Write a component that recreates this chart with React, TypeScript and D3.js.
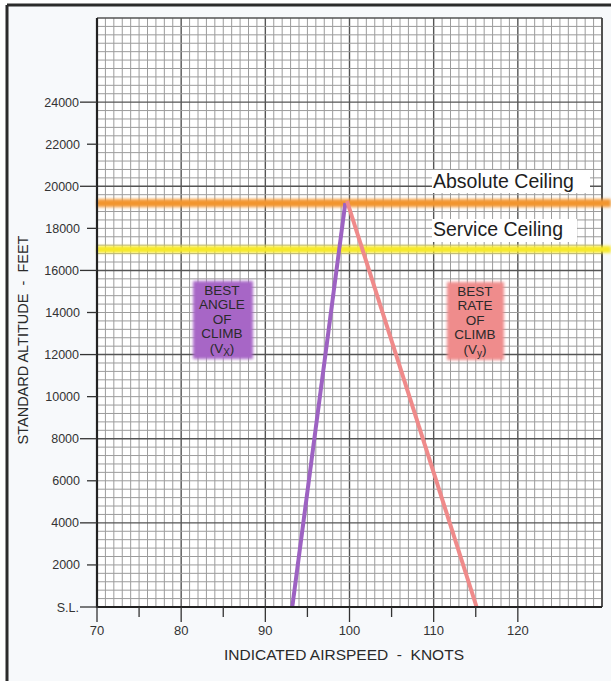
import React from "react";
import * as d3 from "d3";

const W = 611;
const H = 681;

// data
const xDomain: [number, number] = [70, 130];
const yDomain: [number, number] = [0, 28000];
const xTickLabels = [70, 80, 90, 100, 110, 120];
const xMinorTicks = [75, 85, 95, 105, 115];
const yTickValues = [0, 2000, 4000, 6000, 8000, 10000, 12000, 14000, 16000, 18000, 20000, 22000, 24000];
const absoluteCeiling = 19200;
const serviceCeiling = 17000;
const vxLine: [number, number][] = [[93.2, 0], [99.5, 19200]];
const vyLine: [number, number][] = [[99.7, 19300], [115.1, 0]];
const vxLabel = ["BEST", "ANGLE", "OF", "CLIMB"];
const vyLabel = ["BEST", "RATE", "OF", "CLIMB"];

const FONT = "'Liberation Sans', Arial, Helvetica, sans-serif";

export default function App() {
  const x = d3.scaleLinear().domain(xDomain).range([97, 602]);
  const y = d3.scaleLinear().domain(yDomain).range([607, 18]);
  const line = d3.line<[number, number]>().x(d => x(d[0])).y(d => y(d[1]));

  const vGrid = d3.range(xDomain[0], xDomain[1] + 0.001, 1);
  const hGrid = d3.range(yDomain[0], yDomain[1] + 0.001, 400);

  const boxLines = (lines: string[], sub: string, cx: number, top: number) => (
    <text x={cx} textAnchor="middle" fontFamily={FONT} fontSize={13.5} fill="#2a2a2a">
      {lines.map((t, i) => (
        <tspan key={i} x={cx} y={top + i * 14.4}>{t}</tspan>
      ))}
      <tspan x={cx} y={top + 4 * 14.4}>(V<tspan fontSize={10} dy={3}>{sub}</tspan><tspan dy={-3}>)</tspan></tspan>
    </text>
  );

  return (
    <svg width={W} height={H} style={{ position: "absolute", left: 0, top: 0, background: "#f7f9fb" }}>
      <defs>
        <filter id="soft" x="-20%" y="-20%" width="140%" height="140%">
          <feGaussianBlur stdDeviation={1.8} />
        </filter>
        <filter id="soft2" filterUnits="userSpaceOnUse" x={0} y={0} width={W} height={H}>
          <feGaussianBlur stdDeviation={1.4} />
        </filter>
      </defs>
      <rect x={0} y={0} width={W} height={H} fill="#ffffff" />
      <rect x={7} y={5} width={W} height={H} fill="#f7f9fb" />
      <line x1={7} y1={5} x2={W} y2={5} stroke="#2b2b2b" strokeWidth={3} />
      <line x1={7} y1={5} x2={7} y2={H} stroke="#2b2b2b" strokeWidth={3} />

      {/* plot area */}
      <rect x={x(70)} y={y(28000)} width={x(130) - x(70)} height={y(0) - y(28000)} fill="#ffffff" />
      {vGrid.map(v => (
        <line key={"v" + v} x1={x(v)} x2={x(v)} y1={y(28000)} y2={y(0)}
          stroke={v % 10 === 0 ? "#555" : "#9c9c9c"} strokeWidth={v % 10 === 0 ? 1.4 : 1} />
      ))}
      {hGrid.map(v => (
        <line key={"h" + v} x1={x(70)} x2={x(130)} y1={y(v)} y2={y(v)}
          stroke={v % 4000 === 0 ? "#555" : "#9c9c9c"} strokeWidth={v % 4000 === 0 ? 1.4 : 1} />
      ))}
      <line x1={x(130)} x2={x(130)} y1={y(28000)} y2={y(0)} stroke="#444" strokeWidth={1.6} />

      {/* ceilings */}
      <rect x={x(70)} y={y(absoluteCeiling) - 4} width={W - x(70)} height={8} fill="#f2952f" filter="url(#soft2)" />
      <rect x={x(70)} y={y(serviceCeiling) - 3.5} width={W - x(70)} height={7} fill="#f7e925" filter="url(#soft2)" />

      {/* boxes */}
      <rect x={193} y={281} width={60} height={78} fill="#a766c6" filter="url(#soft)" />
      <rect x={447} y={282} width={57} height={78} fill="#ef8c8c" filter="url(#soft)" />
      {boxLines(vxLabel, "X", 222, 295)}
      {boxLines(vyLabel, "y", 475, 296)}

      {/* climb lines */}
      <path d={line(vxLine) || ""} stroke="#9d62c2" strokeWidth={4} fill="none" />
      <path d={line(vyLine) || ""} stroke="#ef8a8a" strokeWidth={4} fill="none" />

      {/* ceiling labels */}
      <rect x={432} y={170} width={158} height={23} fill="#ffffff" />
      <text x={433} y={188} fontFamily={FONT} fontSize={19.5} fill="#1e1e1e">Absolute Ceiling</text>
      <rect x={432} y={219} width={145} height={23} fill="#ffffff" />
      <text x={433} y={236} fontFamily={FONT} fontSize={19.5} fill="#1e1e1e">Service Ceiling</text>

      {/* axes */}
      <line x1={x(70)} x2={x(70)} y1={y(28000)} y2={y(0) + 1} stroke="#222" strokeWidth={2.2} />
      <line x1={x(70)} x2={x(130)} y1={y(0)} y2={y(0)} stroke="#222" strokeWidth={2.2} />
      {yTickValues.map(v => {
        const major = v % 4000 === 0;
        return (
          <g key={"yt" + v}>
            <line x1={major ? 80 : 87} x2={x(70)} y1={y(v)} y2={y(v)} stroke="#333" strokeWidth={1.3} />
            <text x={major ? 79 : 80} y={y(v)} dy="0.36em" textAnchor="end" fontFamily={FONT} fontSize={12.5} fill="#333">
              {v === 0 ? "S.L." : v}
            </text>
          </g>
        );
      })}
      {xTickLabels.map(v => (
        <g key={"xt" + v}>
          <line x1={x(v)} x2={x(v)} y1={y(0)} y2={622} stroke="#333" strokeWidth={1.3} />
          <text x={x(v)} y={635} textAnchor="middle" fontFamily={FONT} fontSize={13} fill="#333">{v}</text>
        </g>
      ))}
      {xMinorTicks.map(v => (
        <line key={"xm" + v} x1={x(v)} x2={x(v)} y1={y(0)} y2={617} stroke="#333" strokeWidth={1.3} />
      ))}

      <text x={344} y={660} textAnchor="middle" fontFamily={FONT} fontSize={15.5} fill="#2a2a2a" style={{ whiteSpace: "pre" }}>
        {"INDICATED AIRSPEED  -  KNOTS"}
      </text>
      <text transform="translate(28,340) rotate(-90)" textAnchor="middle" fontFamily={FONT} fontSize={14.5} fill="#2a2a2a" style={{ whiteSpace: "pre" }}>
        {"STANDARD ALTITUDE  -  FEET"}
      </text>
    </svg>
  );
}
